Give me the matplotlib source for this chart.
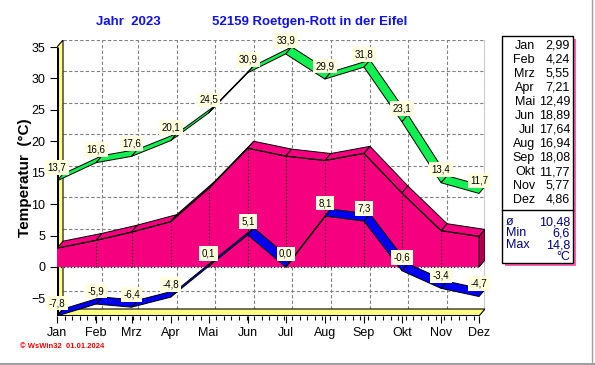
import numpy as np
import matplotlib
matplotlib.use('Agg')
import matplotlib.pyplot as plt
from matplotlib.patches import Polygon, Rectangle

plt.rcParams['font.family'] = ['Liberation Sans', 'DejaVu Sans']

# monthly data 2023
months = ['Jan', 'Feb', 'Mrz', 'Apr', 'Mai', 'Jun', 'Jul', 'Aug', 'Sep', 'Okt', 'Nov', 'Dez']
t_max = [13.7, 16.6, 17.6, 20.1, 24.5, 30.9, 33.9, 29.9, 31.8, 23.1, 13.4, 11.7]
t_mean = [2.99, 4.24, 5.55, 7.21, 12.49, 18.89, 17.64, 16.94, 18.08, 11.77, 5.77, 4.86]
t_min = [-7.8, -5.9, -6.4, -4.8, 0.1, 5.1, 0.0, 8.1, 7.3, -0.6, -3.4, -4.7]
summary = [('ø', '10,48'), ('Min', '6,6'), ('Max', '14,8'), ('', '°C')]

# x = day of year of the 1st of each month
days = (np.arange('2023-01', '2024-01', dtype='datetime64[M]').astype('datetime64[D]')
        - np.datetime64('2023-01-01')).astype(int)

W, H = 595, 365
fig = plt.figure(figsize=(W / 100, H / 100), dpi=100)
ax = fig.add_axes([57 / W, (H - 316) / H, 428 / W, 276 / H])

ymin, ytop = -7.8, 35
dx = 6 / 1.2635          # 3d depth in days
dy = 7 / 6.285           # 3d depth in degrees
xend = days[-1]
ax.set_xlim(0, xend + dx)
ax.set_ylim(ymin, ytop + dy)
for s in ax.spines.values():
    s.set_visible(False)

# back wall grid
for v in range(-5, 40, 5):
    ax.plot([dx, xend + dx], [v + dy, v + dy], color='#808080', lw=0.8, ls=(0, (3, 2)), zorder=1)
for d in days[1:]:
    ax.plot([d + dx, d + dx], [ymin + dy, ytop + dy], color='#808080', lw=0.8, ls=(0, (3, 2)), zorder=1)
ax.plot([xend + dx, xend + dx], [ymin + dy, ytop + dy], color='black', lw=1, zorder=1)

# left wall and floor
ax.add_patch(Polygon([(0, ymin), (0, ytop), (dx, ytop + dy), (dx, ymin + dy)],
                     fc='#FFFF80', ec='black', lw=0.8, zorder=2))
ax.add_patch(Polygon([(0, ymin), (xend, ymin), (xend + dx, ymin + dy), (dx, ymin + dy)],
                     fc='#FFFF80', ec='black', lw=0.8, zorder=2))
ax.plot([0, 0], [ymin, ytop], color='black', lw=2.2, zorder=3, solid_capstyle='butt')
ax.plot([0, xend], [ymin, ymin], color='black', lw=2.2, zorder=3, solid_capstyle='butt')


def ribbon(vals, color, z):
    for i in range(len(days) - 1):
        x0, x1 = days[i], days[i + 1]
        y0, y1 = vals[i], vals[i + 1]
        ax.add_patch(Polygon([(x0, y0), (x1, y1), (x1 + dx, y1 + dy), (x0 + dx, y0 + dy)],
                             fc=color, ec='black', lw=0.7, zorder=z))


# mean temperature as 3d area
front = [(0, 0)] + list(zip(days, t_mean)) + [(xend, 0)]
ax.add_patch(Polygon(front, fc='#F5007F', ec='none', zorder=4))
ribbon(t_mean, '#F5007F', 4)
ax.add_patch(Polygon([(xend, 0), (xend, t_mean[-1]), (xend + dx, t_mean[-1] + dy), (xend + dx, dy)],
                     fc='#B0004A', ec='black', lw=0.7, zorder=4))
ax.plot(days, t_mean, color='black', lw=0.8, zorder=5)
for d, v in zip(days[1:-1], t_mean[1:-1]):
    ax.plot([d, d], [0, v], color='black', lw=0.8, ls=(0, (1, 2)), zorder=5)
ax.plot([0, xend], [0, 0], color='black', lw=0.8, ls=(0, (1, 2)), zorder=5)

ribbon(t_min, '#0000F0', 6)
ribbon(t_max, '#10F050', 6)

for vals in (t_max, t_min):
    for d, v in zip(days, vals):
        ax.annotate(f'{v:.1f}'.replace('.', ','), (d, v), xytext=(0, 13), textcoords='offset pixels',
                    ha='center', va='center', fontsize=7, zorder=8,
                    bbox=dict(boxstyle='square,pad=0.25', fc='#FFFFE0', ec='none'))

ax.set_yticks(range(-5, 40, 5))
ax.set_xticks(days)
ax.set_xticklabels(months)
ax.set_xticks(np.arange(0, xend, 6), minor=True)
ax.tick_params(axis='both', which='major', length=5, labelsize=9, direction='out', width=0.8)
ax.tick_params(axis='x', which='minor', length=3, width=0.8)
ax.tick_params(axis='x', pad=3)
ax.set_ylabel('Temperatur  (°C)', fontsize=11, fontweight='bold')
ax.yaxis.set_label_coords(-25 / 428, 0.5)

# title
fig.text(128 / W, 1 - 22 / H, 'Jahr  2023', color='#1010F5', fontsize=9.5, fontweight='bold',
         ha='center', va='center')
fig.text(310 / W, 1 - 22 / H, '52159 Roetgen-Rott in der Eifel', color='#1010F5', fontsize=9.5,
         fontweight='bold', ha='center', va='center')
fig.text(20 / W, 1 - 347 / H, '© WsWin32  01.01.2024', color='red', fontsize=5.5,
         fontweight='bold', ha='left', va='center')

# side table with monthly means
bx0, bx1, by0, by1, bdiv = 502, 573, 36, 263, 210
fig.add_artist(Rectangle(((bx0 + 3) / W, 1 - (by1 + 3) / H), (bx1 - bx0) / W, (by1 - by0) / H,
                         fc='#FF60B0', ec='none', transform=fig.transFigure))
fig.add_artist(Rectangle((bx0 / W, 1 - by1 / H), (bx1 - bx0) / W, (by1 - by0) / H,
                         fc='white', ec='black', lw=1, transform=fig.transFigure))
fig.add_artist(plt.Line2D([bx0 / W, bx1 / W], [1 - bdiv / H, 1 - bdiv / H], color='black', lw=1))
for i, (m, v) in enumerate(zip(months, t_mean)):
    y = 1 - (46 + i * 14) / H
    fig.text(535 / W, y, m, fontsize=9, ha='right', va='center')
    fig.text(570 / W, y, f'{v:.2f}'.replace('.', ','), fontsize=9, ha='right', va='center')
for i, (k, v) in enumerate(summary):
    y = 1 - (222 + i * 11.5) / H
    fig.text(506 / W, y, k, fontsize=9, ha='left', va='center', color='#000080')
    fig.text(570 / W, y, v, fontsize=9, ha='right', va='center', color='#000080')

# image frame
fig.add_artist(plt.Line2D([0, 1], [1.5 / H, 1.5 / H], color='#A0A0A0', lw=1.5))
fig.add_artist(plt.Line2D([1 - 3 / W, 1 - 3 / W], [0, 1], color='#A0A0A0', lw=1))

fig.savefig('out.png', dpi=100)
